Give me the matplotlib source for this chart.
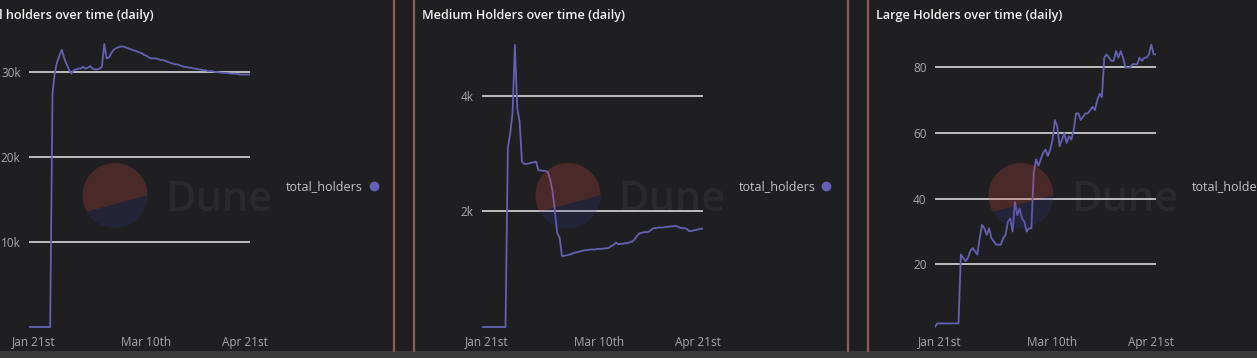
import matplotlib
matplotlib.use('Agg')
import matplotlib.pyplot as plt
import numpy as np
import pandas as pd
from matplotlib.lines import Line2D
from matplotlib.patches import Polygon, Rectangle

# daily dates shared by all three panels
dates = pd.date_range('2023-01-19', '2023-04-23', freq='D')

# values (thousands for total / medium)
total_k = [
    0, 0, 0, 0, 0, 0, 0, 0, 0, 0,
    27.5, 30.0, 31.2, 32.0, 32.6, 31.6, 30.9, 30.3, 29.8, 30.2,
    30.3, 30.4, 30.4, 30.6, 30.4, 30.5, 30.7, 30.4, 30.3, 30.3,
    30.4, 30.6, 33.3, 31.6, 31.7, 32.2, 32.6, 32.8, 32.9, 33.0,
    33.0, 32.9, 32.8, 32.7, 32.6, 32.5, 32.4, 32.3, 32.2, 32.0,
    31.9, 31.7, 31.6, 31.6, 31.6, 31.5, 31.4, 31.4, 31.3, 31.2,
    31.1, 31.0, 30.9, 30.9, 30.8, 30.7, 30.6, 30.6, 30.5, 30.5,
    30.4, 30.4, 30.3, 30.3, 30.2, 30.2, 30.1, 30.1, 30.1, 30.0,
    30.0, 29.95, 29.9, 29.9, 29.9, 29.85, 29.8, 29.8, 29.8, 29.75,
    29.7, 29.7, 29.7, 29.7, 29.7,
]
medium_k = [
    0, 0, 0, 0, 0, 0, 0, 0, 0, 0,
    0, 3.1, 3.35, 3.7, 4.88, 3.78, 3.55, 2.86, 2.82, 2.82,
    2.83, 2.84, 2.85, 2.86, 2.71, 2.71, 2.70, 2.70, 2.68, 2.55,
    2.35, 2.0, 1.62, 1.55, 1.23, 1.23, 1.24, 1.25, 1.26, 1.28,
    1.29, 1.30, 1.31, 1.32, 1.33, 1.33, 1.34, 1.34, 1.34, 1.35,
    1.35, 1.35, 1.36, 1.36, 1.37, 1.40, 1.42, 1.46, 1.43, 1.44,
    1.44, 1.45, 1.45, 1.47, 1.48, 1.52, 1.58, 1.62, 1.63, 1.64,
    1.64, 1.65, 1.68, 1.71, 1.71, 1.72, 1.72, 1.72, 1.73, 1.73,
    1.74, 1.74, 1.75, 1.74, 1.72, 1.71, 1.71, 1.70, 1.66, 1.66,
    1.67, 1.68, 1.69, 1.70, 1.70,
]
large = [
    1, 2, 2, 2, 2, 2, 2, 2, 2, 2,
    2, 23, 22, 21, 22, 24, 25, 24, 23, 28,
    32, 31, 29, 31, 28, 27, 26, 26, 26, 28,
    29, 33, 34, 30, 39, 35, 37, 34, 33, 30,
    31, 31, 48, 52, 50, 52, 54, 55, 53, 55,
    58, 64, 62, 56, 58, 60, 57, 59, 58, 61,
    66, 66, 64, 65, 66, 66, 67, 68, 67, 70,
    72, 71, 83, 84, 83, 82, 82, 85, 83, 85,
    83, 80, 80, 80, 81, 81, 81, 83, 82, 83,
    83, 84, 87, 84, 84,
]

titles = ['Total holders over time (daily)',
          'Medium Holders over time (daily)',
          'Large Holders over time (daily)']
series_name = 'total_holders'
tick_dates = ['2023-01-21', '2023-03-10', '2023-04-21']
tick_labels = ['Jan 21st', 'Mar 10th', 'Apr 21st']
yticks = [[10000, 20000, 30000], [2000, 4000], [20, 40, 60, 80]]

BG = '#1f1f21'
LINE = '#6560b4'
GRID = '#c9c9c9'
TXT = '#a9a9ab'
FONT = 'Open Sans'

W, H = 1257, 358
fig = plt.figure(figsize=(W / 100, H / 100), dpi=100, facecolor=BG)

# pixel boxes of the plot areas: left edges, shared width / top / bottom
lefts = [29, 482, 935]
width_px = 221
top_px, bot_px = 35, 330
ylims = [(-350, 34350), (-52, 5050), (0, 89.9)]
values = [np.array(total_k) * 1000, np.array(medium_k) * 1000, np.array(large)]


def kfmt(v, _):
    return f'{int(v / 1000)}k' if v >= 1000 else f'{int(v)}'


for k in range(3):
    ax = fig.add_axes([lefts[k] / W, (H - bot_px) / H, width_px / W, (bot_px - top_px) / H])
    ax.set_facecolor(BG)
    ax.plot(dates, values[k], color=LINE, lw=1.3, zorder=3)
    ax.set_xlim(dates[0], dates[-1])
    ax.set_ylim(*ylims[k])
    ax.set_yticks(yticks[k])
    ax.yaxis.set_major_formatter(plt.FuncFormatter(kfmt))
    ax.set_xticks(pd.to_datetime(tick_dates))
    ax.set_xticklabels(tick_labels)
    ax.grid(axis='y', color=GRID, lw=1.3)
    ax.set_axisbelow(True)
    for s in ax.spines.values():
        s.set_visible(False)
    ax.tick_params(length=0, colors=TXT, labelsize=8.5)
    ax.tick_params(axis='y', pad=6)
    ax.tick_params(axis='x', pad=4)
    for lab in ax.get_xticklabels() + ax.get_yticklabels():
        lab.set_fontfamily(FONT)
    handle = Line2D([], [], color=LINE, marker='o', ls='none', markersize=6)
    leg = ax.legend([handle], [series_name], loc='center left', markerfirst=False,
                    bbox_to_anchor=((286 - 29) / width_px, (bot_px - 186.5) / (bot_px - top_px)),
                    frameon=False, borderpad=0, borderaxespad=0, handlelength=0.7,
                    handletextpad=0.5, prop={'family': FONT, 'size': 9})
    for t in leg.get_texts():
        t.set_color('#c4c4c6')

# overlay in pixel coordinates for dashboard chrome
ov = fig.add_axes([0, 0, 1, 1], zorder=10)
ov.set_xlim(0, W)
ov.set_ylim(H, 0)
ov.axis('off')
ov.patch.set_visible(False)

title_x = [154, 422, 876]
for k in range(3):
    ov.text(title_x[k], 15, titles[k], color='#f2f2f2', fontsize=9.1, fontweight='semibold',
            family=FONT, ha='right' if k == 0 else 'left', va='center')

    # Dune watermark: circle split by a tilted chord, translucent over the chart
    cx, cy, r = lefts[k] + 86, 195.5, 32.5
    a1 = np.radians(np.linspace(0.5, 209.7, 80))
    a2 = np.radians(np.linspace(209.7, 360.5, 60))
    top = np.column_stack([cx + r * np.cos(a1), cy - r * np.sin(a1)])
    bot = np.column_stack([cx + r * np.cos(a2), cy - r * np.sin(a2)])
    ov.add_patch(Polygon(top, closed=True, color=(0.80, 0.30, 0.24), alpha=0.25, lw=0))
    ov.add_patch(Polygon(bot, closed=True, color=(0.24, 0.24, 0.60), alpha=0.2, lw=0))
    ov.text(lefts[k] + 136, 211, 'Dune', color='white', alpha=0.05, fontsize=30,
            fontweight='semibold', family=FONT, ha='left', va='baseline')

# panel separators
for xs in [394, 414, 848, 868]:
    ov.plot([xs, xs], [0, 351], color='#8d5c56', lw=1.6)

# bottom browser strip
ov.add_patch(Rectangle((0, 351), W, 7, color='#3a3a3b', lw=0))

fig.savefig('out.png', dpi=100, facecolor=BG)
